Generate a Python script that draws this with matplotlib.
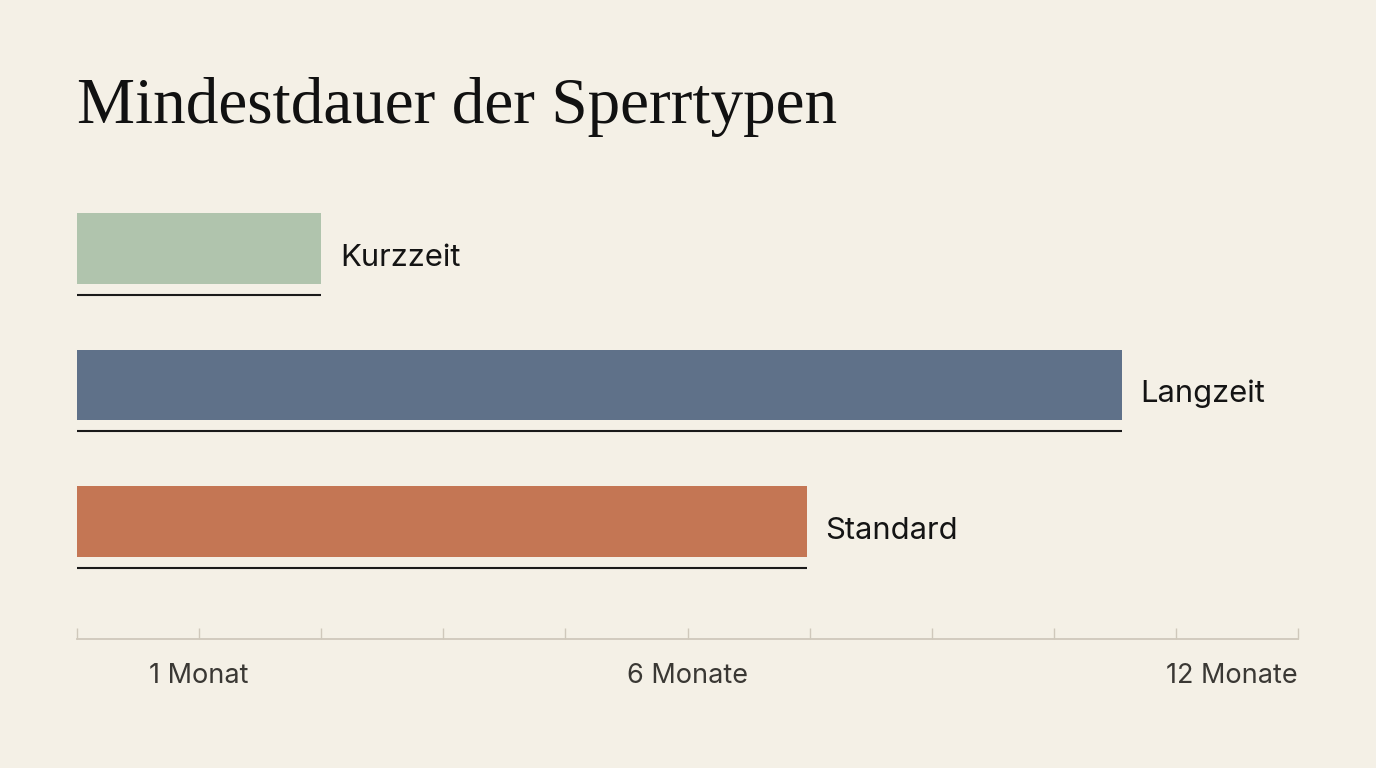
import matplotlib
matplotlib.use("Agg")
import matplotlib.pyplot as plt
import matplotlib.transforms as mtransforms

# data (months)
categories = ["Kurzzeit", "Langzeit", "Standard"]
durations = [2.4, 10.27, 7.17]
bar_colors = ["#B0C4AD", "#5F7189", "#C47654"]
tick_positions = [i * 1.2 for i in range(11)]
label_positions = [1.2, 6, 12]
label_texts = ["1 Monat", "6 Monate", "12 Monate"]

bg = "#F4F0E6"
W, H = 1376, 768

fig = plt.figure(figsize=(W / 100, H / 100), dpi=100, facecolor=bg)
ax = fig.add_axes([77 / W, 1 - 639 / H, (1298 - 77) / W, (639 - 180) / H])
ax.set_facecolor(bg)

bar_h = 0.52
ypos = list(range(len(categories)))
ax.barh(ypos, durations, height=bar_h, color=bar_colors, left=0)

# underline below each bar + label to the right
for y, d, name in zip(ypos, durations, categories):
    ax.plot([0, d], [y + bar_h / 2 + 0.08] * 2, color="#1a1a1a", lw=1.5,
            solid_capstyle="butt")
    ax.annotate(name, xy=(d, y), xytext=(13.5, -6.5),
                textcoords="offset points", va="center", ha="left",
                fontsize=22.3, family=["Inter", "DejaVu Sans"], color="#141414")

ax.set_xlim(0, 12)
ax.set_ylim(2.861, -0.502)

for s in ["top", "right", "left"]:
    ax.spines[s].set_visible(False)
ax.spines["bottom"].set_color("#CFC8BB")
ax.spines["bottom"].set_linewidth(1.3)
ax.set_yticks([])
ax.set_xticks(tick_positions)
ax.tick_params(axis="x", direction="in", length=8, width=1.0, color="#CFC8BB",
               labelbottom=False)

trans = mtransforms.blended_transform_factory(ax.transData, fig.transFigure)
for pos, txt in zip(label_positions, label_texts):
    ha = "right" if pos == label_positions[-1] else "center"
    ax.text(pos, 1 - 676 / H, txt, transform=trans, ha=ha, va="center",
            fontsize=19.5, family=["Inter", "DejaVu Sans"], color="#3a3834")

fig.text(77 / W, 1 - 123 / H, "Mindestdauer der Sperrtypen", ha="left",
         va="baseline", fontsize=47, family=["Liberation Serif", "DejaVu Serif"],
         color="#111111")

fig.savefig("out.png", dpi=100, facecolor=bg)
